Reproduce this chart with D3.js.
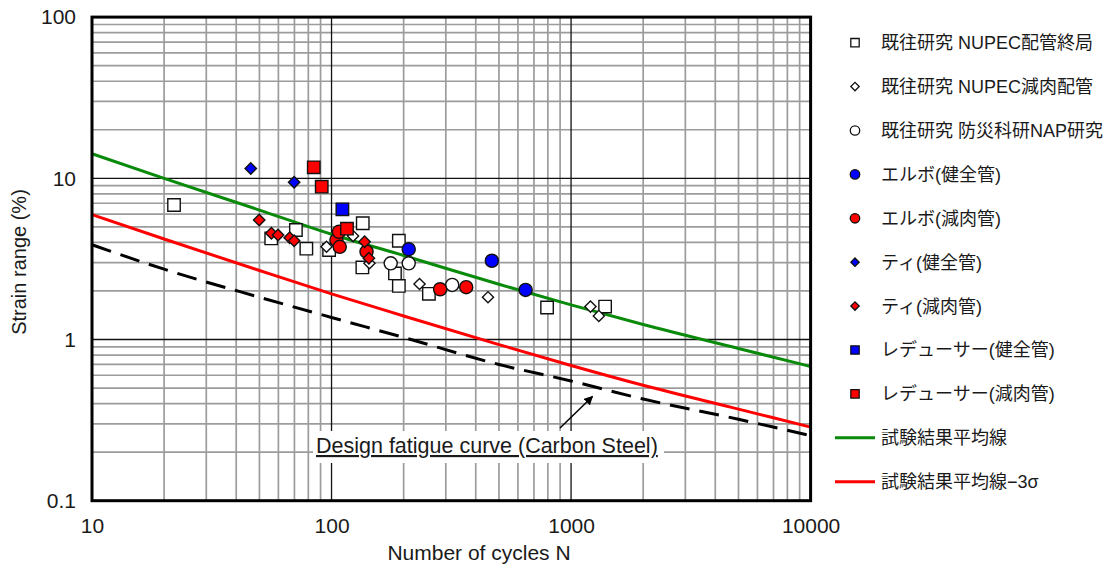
<!DOCTYPE html>
<html>
<head>
<meta charset="utf-8">
<script src="https://cdn.jsdelivr.net/npm/d3@7"></script>
<style>
  html, body { margin: 0; padding: 0; background: #fff; }
  svg { display: block; }
  text { font-family: "Liberation Sans", Arial, "Noto Sans CJK JP", sans-serif; fill: #1a1a1a; }
</style>
</head>
<body>
<svg id="chart" width="1112" height="566"></svg>
<script>
// ---------------- DATA ----------------
const xTickValues = [10, 100, 1000, 10000];
const xTickLabels = ["10", "100", "1000", "10000"];
const yTickValues = [0.1, 1, 10, 100];
const yTickLabels = ["0.1", "1", "10", "100"];

const seriesNames = [
  "既往研究 NUPEC配管終局",
  "既往研究 NUPEC減肉配管",
  "既往研究 防災科研NAP研究",
  "エルボ(健全管)",
  "エルボ(減肉管)",
  "ティ(健全管)",
  "ティ(減肉管)",
  "レデューサー(健全管)",
  "レデューサー(減肉管)",
  "試験結果平均線",
  "試験結果平均線−3σ"
];

// Previous study NUPEC piping (open squares)
const nupecEndN = [22, 56, 71, 78.5, 97.7, 134.5, 135, 191, 184, 191, 255, 794, 1387];
const nupecEndS = [6.83, 4.24, 4.78, 3.66, 3.59, 2.8, 5.26, 4.1, 2.57, 2.15, 1.92, 1.58, 1.6];
// Previous study NUPEC wall-thinned (open diamonds)
const nupecThinN = [95.3, 123, 144, 233, 450, 1205, 1306];
const nupecThinS = [3.76, 4.39, 2.97, 2.21, 1.83, 1.6, 1.40];
// Previous study NIED NAP (open circles)
const napN = [176.6, 210, 319];
const napS = [2.97, 2.97, 2.18];
// Elbow sound (blue circles)
const elbowSoundN = [210, 467, 646];
const elbowSoundS = [3.63, 3.08, 2.03];
// Elbow thinned (red circles)
const elbowThinN = [104.8, 107.4, 108.2, 140, 284, 365];
const elbowThinS = [4.14, 4.66, 3.76, 3.51, 2.05, 2.11];
// Tee sound (blue diamonds)
const teeSoundN = [46, 69.8];
const teeSoundS = [11.5, 9.45];
// Tee thinned (red diamonds)
const teeThinN = [49.9, 56.1, 59.8, 66.9, 69.8, 137.4, 143.2];
const teeThinS = [5.51, 4.56, 4.45, 4.28, 4.10, 4.04, 3.19];
// Reducer sound (blue square)
const reducerSoundN = [111];
const reducerSoundS = [6.42];
// Reducer thinned (red squares)
const reducerThinN = [84.3, 91, 116];
const reducerThinS = [11.7, 8.87, 4.87];

// Curves
const curveN = [10, 20, 50, 100, 200, 500, 1000, 2000, 5000, 10000];
const meanS = [14.2, 10.0, 6.35, 4.5, 3.32, 2.2, 1.64, 1.24, 0.88, 0.68];
const mean3sS = [5.95, 4.2, 2.68, 1.92, 1.4, 0.93, 0.69, 0.52, 0.37, 0.286];
const designS = [3.87, 2.73, 1.83, 1.37, 1.03, 0.70, 0.553, 0.427, 0.32, 0.253];

const xTitle = "Number of cycles N";
const yTitle = "Strain range (%)";
const annotationText = "Design fatigue curve (Carbon Steel)";

// ---------------- CHART ----------------
const svg = d3.select("#chart");
const plot = { left: 92, right: 810.6, top: 17.1, bottom: 500.7 };

const x = d3.scaleLog().domain([10, 10000]).range([plot.left, plot.right]);
const y = d3.scaleLog().domain([0.1, 100]).range([plot.bottom, plot.top]);

const gridG = svg.append("g");
const minorX = [], minorY = [];
[10, 100, 1000].forEach(d => { for (let k = 2; k <= 9; k++) minorX.push(d * k); });
[0.1, 1, 10].forEach(d => { for (let k = 2; k <= 9; k++) minorY.push(d * k); });

gridG.selectAll("line.mx").data(minorX).join("line")
  .attr("x1", d => x(d)).attr("x2", d => x(d))
  .attr("y1", plot.top).attr("y2", plot.bottom)
  .attr("stroke", "#9c9c9c").attr("stroke-width", 1.7);
gridG.selectAll("line.my").data(minorY).join("line")
  .attr("y1", d => y(d)).attr("y2", d => y(d))
  .attr("x1", plot.left).attr("x2", plot.right)
  .attr("stroke", "#9c9c9c").attr("stroke-width", 1.7);
gridG.selectAll("line.Mx").data([100, 1000]).join("line")
  .attr("x1", d => x(d)).attr("x2", d => x(d))
  .attr("y1", plot.top).attr("y2", plot.bottom)
  .attr("stroke", "#111").attr("stroke-width", 1.3);
gridG.selectAll("line.My").data([1, 10]).join("line")
  .attr("y1", d => y(d)).attr("y2", d => y(d))
  .attr("x1", plot.left).attr("x2", plot.right)
  .attr("stroke", "#111").attr("stroke-width", 1.3);

// annotation background (hides grid)
svg.append("rect")
  .attr("x", 313).attr("y", 431).attr("width", 351).attr("height", 32)
  .attr("fill", "#fff");

// axes
const xAxis = d3.axisBottom(x).tickValues(xTickValues)
  .tickFormat((d, i) => xTickLabels[i]).tickSize(0).tickPadding(17);
const gx = svg.append("g").attr("transform", `translate(0,${plot.bottom})`).call(xAxis);
gx.select(".domain").remove();
gx.selectAll("text").attr("font-size", 21).attr("fill", "#1a1a1a")
  .attr("font-family", "'Liberation Sans', Arial, sans-serif");

const yAxis = d3.axisLeft(y).tickValues(yTickValues)
  .tickFormat((d, i) => yTickLabels[i]).tickSize(0).tickPadding(16);
const gy = svg.append("g").attr("transform", `translate(${plot.left},0)`).call(yAxis);
gy.select(".domain").remove();
gy.selectAll("text").attr("font-size", 21).attr("fill", "#1a1a1a")
  .attr("font-family", "'Liberation Sans', Arial, sans-serif");

svg.append("text").attr("x", 479).attr("y", 560).attr("text-anchor", "middle")
  .attr("font-size", 21).text(xTitle);
svg.append("text").attr("transform", "translate(26,262) rotate(-90)")
  .attr("text-anchor", "middle").attr("font-size", 20).text(yTitle);

// curves
const line = d3.line().x(d => x(d[0])).y(d => y(d[1])).curve(d3.curveMonotoneX);
const curveG = svg.append("g");
curveG.append("path").datum(curveN.map((n, i) => [n, designS[i]]))
  .attr("d", line).attr("fill", "none").attr("stroke", "#000")
  .attr("stroke-width", 3).attr("stroke-dasharray", "20,10");
curveG.append("path").datum(curveN.map((n, i) => [n, mean3sS[i]]))
  .attr("d", line).attr("fill", "none").attr("stroke", "#ff0000").attr("stroke-width", 3);
curveG.append("path").datum(curveN.map((n, i) => [n, meanS[i]]))
  .attr("d", line).attr("fill", "none").attr("stroke", "#0a8a0a").attr("stroke-width", 3);

// annotation
svg.append("text").attr("x", 316).attr("y", 453).attr("font-size", 21.5)
  .attr("text-decoration", "underline").text(annotationText);
svg.append("defs").append("marker").attr("id", "arr")
  .attr("viewBox", "0 0 10 10").attr("refX", 9).attr("refY", 5)
  .attr("markerWidth", 6).attr("markerHeight", 6).attr("orient", "auto")
  .append("path").attr("d", "M0,0 L10,5 L0,10 z").attr("fill", "#000");
svg.append("line").attr("x1", 560).attr("y1", 428).attr("x2", 592.5).attr("y2", 396.5)
  .attr("stroke", "#000").attr("stroke-width", 1.5).attr("marker-end", "url(#arr)");

// markers
const sym = {
  square: d3.symbol().type(d3.symbolSquare),
  circle: d3.symbol().type(d3.symbolCircle),
  diamond: d3.symbol().type(d3.symbolSquare)
};
const series = [
  { N: nupecEndN, S: nupecEndS, shape: "square", fill: "#fff", size: 155 },
  { N: nupecThinN, S: nupecThinS, shape: "diamond", fill: "#fff", size: 62 },
  { N: napN, S: napS, shape: "circle", fill: "#fff", size: 135 },
  { N: elbowSoundN, S: elbowSoundS, shape: "circle", fill: "#0000ff", size: 135 },
  { N: elbowThinN, S: elbowThinS, shape: "circle", fill: "#ff0000", size: 135 },
  { N: teeSoundN, S: teeSoundS, shape: "diamond", fill: "#0000ff", size: 65 },
  { N: teeThinN, S: teeThinS, shape: "diamond", fill: "#ff0000", size: 65 },
  { N: reducerSoundN, S: reducerSoundS, shape: "square", fill: "#0000ff", size: 155 },
  { N: reducerThinN, S: reducerThinS, shape: "square", fill: "#ff0000", size: 155 }
];
const markG = svg.append("g");
series.forEach(s => {
  const pts = s.N.map((n, i) => [n, s.S[i]]);
  markG.append("g").selectAll("path").data(pts).join("path")
    .attr("d", sym[s.shape].size(s.size)())
    .attr("transform", d => `translate(${x(d[0])},${y(d[1])})` + (s.shape === "diamond" ? " rotate(45)" : ""))
    .attr("fill", s.fill).attr("stroke", "#111").attr("stroke-width", 1.4);
});

// frame
svg.append("rect").attr("x", plot.left).attr("y", plot.top)
  .attr("width", plot.right - plot.left).attr("height", plot.bottom - plot.top)
  .attr("fill", "none").attr("stroke", "#000").attr("stroke-width", 3);

// legend
const legend = svg.append("g");
const legY = d3.range(11).map(i => 42.7 + i * 43.9);
const legendSym = [
  { shape: "square", fill: "#fff", size: 70 },
  { shape: "diamond", fill: "#fff", size: 35 },
  { shape: "circle", fill: "#fff", size: 70 },
  { shape: "circle", fill: "#0000ff", size: 70 },
  { shape: "circle", fill: "#ff0000", size: 70 },
  { shape: "diamond", fill: "#0000ff", size: 35 },
  { shape: "diamond", fill: "#ff0000", size: 35 },
  { shape: "square", fill: "#0000ff", size: 70 },
  { shape: "square", fill: "#ff0000", size: 70 }
];
seriesNames.forEach((name, i) => {
  const g = legend.append("g").attr("transform", `translate(0,${legY[i]})`);
  if (i < 9) {
    const m = legendSym[i];
    g.append("path").attr("d", sym[m.shape].size(m.size)())
      .attr("transform", `translate(855,0)` + (m.shape === "diamond" ? " rotate(45)" : ""))
      .attr("fill", m.fill).attr("stroke", "#111").attr("stroke-width", 1.3);
  } else {
    g.append("line").attr("x1", 835).attr("x2", 875).attr("y1", 0).attr("y2", 0)
      .attr("stroke", i === 9 ? "#0a8a0a" : "#ff0000").attr("stroke-width", 3);
  }
  g.append("text").attr("x", 881).attr("y", 0).attr("dy", "0.36em")
    .attr("font-size", 18).text(name);
});
</script>
</body>
</html>
